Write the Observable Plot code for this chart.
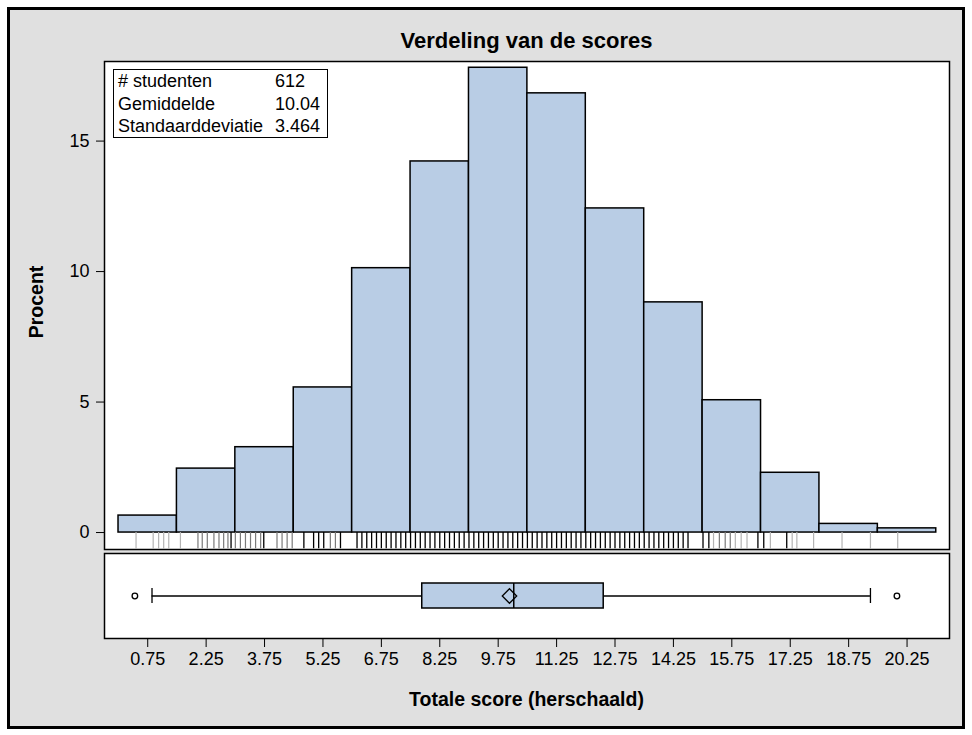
<!DOCTYPE html>
<html>
<head>
<meta charset="utf-8">
<script src="https://cdn.jsdelivr.net/npm/d3@7"></script>
<script src="https://cdn.jsdelivr.net/npm/@observablehq/plot@0.6"></script>
<style>
  html, body { margin: 0; padding: 0; background: #ffffff; }
  #wrap { position: relative; width: 972px; height: 735px; overflow: hidden;
          font-family: "Liberation Sans", Arial, sans-serif; color: #000; }
  #outer { position: absolute; left: 7px; top: 7px; width: 952px; height: 716px;
           border: 3px solid #000; background: #e0e0e0; }
  .layer { position: absolute; left: 0; top: 0; }
  .layer svg { display: block; max-width: none; }
  #title { position: absolute; left: 104px; width: 845px; top: 30px; text-align: center;
           font-weight: bold; font-size: 22px; line-height: 22px; white-space: nowrap; }
  #xlabel { position: absolute; left: 104px; width: 845px; top: 690px; text-align: center;
            font-weight: bold; font-size: 19.5px; line-height: 19.5px; white-space: nowrap; }
  #ylabel { position: absolute; left: -64px; top: 292px; width: 200px; height: 20px;
            text-align: center; font-weight: bold; font-size: 19.5px; line-height: 20px;
            transform: rotate(-90deg); white-space: nowrap; }
  #stats { position: absolute; left: 113px; top: 69px; width: 215px; height: 69px;
           box-sizing: border-box; border: 1.5px solid #000; background: #fff;
           font-size: 18px; line-height: 22.5px; }
  #stats .row { position: relative; height: 22.5px; white-space: nowrap; }
  #stats .lab { position: absolute; left: 4px; }
  #stats .val { position: absolute; left: 161px; }
</style>
</head>
<body>
<div id="wrap">
  <div id="outer"></div>
  <div class="layer" id="topLayer"></div>
  <div class="layer" id="bottomLayer"></div>
  <div id="title">Verdeling van de scores</div>
  <div id="ylabel">Procent</div>
  <div id="xlabel">Totale score (herschaald)</div>
  <div id="stats"></div>
</div>
<script>
// ---------- data ----------
const binMid = [0.75, 2.25, 3.75, 5.25, 6.75, 8.25, 9.75, 11.25, 12.75, 14.25, 15.75, 17.25, 18.75, 20.25];
const binPct = [0.65, 2.45, 3.27, 5.56, 10.13, 14.22, 17.81, 16.83, 12.42, 8.82, 5.07, 2.29, 0.33, 0.16];
const binWidth = 1.5;
const xTicks = [0.75, 2.25, 3.75, 5.25, 6.75, 8.25, 9.75, 11.25, 12.75, 14.25, 15.75, 17.25, 18.75, 20.25];
const yTicks = [0, 5, 10, 15];

const statLabels = ["# studenten", "Gemiddelde", "Standaarddeviatie"];
const statValues = ["612", "10.04", "3.464"];

const boxQ1 = 7.80, boxMedian = 10.15, boxQ3 = 12.46;
const whiskerLow = 0.86, whiskerHigh = 19.31, meanValue = 10.04;
const outliers = [0.42, 19.99];

// rug (observed score positions), by darkness of the rug line
const rugLight = [0.45, 0.89, 1.03, 1.16, 1.29, 1.59, 15.28, 15.84, 15.99, 16.14, 16.74,
                  17.30, 17.42, 17.85, 18.58, 19.31, 20.01];
const rugMid = [2.04, 2.15, 2.28, 2.45, 2.58, 2.70, 2.81, 3.00, 3.13, 3.26, 3.39, 3.52, 3.65,
                4.07, 4.20, 4.33, 4.46, 5.44, 5.57, 15.43, 15.58, 15.71];
const rugDark = [2.89, 3.73, 4.76, 5.01, 5.14, 5.27, 5.70,
  6.125, 6.25, 6.375, 6.5, 6.625, 6.75, 6.875, 7, 7.125, 7.25, 7.375, 7.5, 7.625, 7.75, 7.875,
  8, 8.125, 8.25, 8.375, 8.5, 8.625, 8.75, 8.875, 9, 9.125, 9.25, 9.375, 9.5, 9.625, 9.75, 9.875,
  10, 10.125, 10.25, 10.375, 10.5, 10.625, 10.75, 10.875, 11, 11.125, 11.25, 11.375, 11.5, 11.625,
  11.75, 11.875, 12, 12.125, 12.25, 12.375, 12.5, 12.625, 12.75, 12.875, 13, 13.125, 13.25, 13.375,
  13.5, 13.625, 13.75, 13.875, 14, 14.125, 14.25, 14.375, 14.5, 14.625,
  15.01, 15.16, 16.42, 16.57, 17.16];

// ---------- styling ----------
const barFill = "#b9cde5";
const xDomain = [-0.36, 21.34];
const fontFam = '"Liberation Sans", Arial, sans-serif';

const bins = binMid.map((m, i) => ({x1: m - binWidth / 2, x2: m + binWidth / 2, pct: binPct[i]}));
const boxRow = [{g: "score", q1: boxQ1, med: boxMedian, q3: boxQ3, lo: whiskerLow, hi: whiskerHigh, mean: meanValue}];

const topPlot = Plot.plot({
  width: 972, height: 560,
  marginTop: 61, marginLeft: 104, marginRight: 23, marginBottom: 11,
  x: {domain: xDomain, axis: null},
  y: {domain: [-0.65, 18.05]},
  style: {background: "transparent", fontFamily: fontFam, fontSize: "18px", color: "#000"},
  marks: [
    Plot.frame({fill: "white", stroke: null}),
    Plot.rectY(bins, {x1: "x1", x2: "x2", y1: 0, y2: "pct", fill: barFill, stroke: "#000", strokeWidth: 1.5}),
    Plot.ruleX(rugLight, {x: d => d, y1: 0, y2: -0.62, stroke: "#b4b4b4", strokeWidth: 1.2}),
    Plot.ruleX(rugMid, {x: d => d, y1: 0, y2: -0.62, stroke: "#7a7a7a", strokeWidth: 1.2}),
    Plot.ruleX(rugDark, {x: d => d, y1: 0, y2: -0.62, stroke: "#000", strokeWidth: 1.3}),
    Plot.frame({stroke: "#000", strokeWidth: 1.5}),
    Plot.axisY(yTicks, {anchor: "left", tickSize: 8, tickPadding: 7, fontSize: 18, label: null, stroke: "#000"})
  ]
});
document.getElementById("topLayer").appendChild(topPlot);

const bottomPlot = Plot.plot({
  width: 972, height: 735,
  marginTop: 553, marginLeft: 104, marginRight: 23, marginBottom: 97,
  x: {domain: xDomain},
  y: {domain: ["score"], padding: 0.546, axis: null},
  style: {background: "transparent", fontFamily: fontFam, fontSize: "18px", color: "#000"},
  marks: [
    Plot.frame({fill: "white", stroke: null}),
    Plot.ruleY(boxRow, {y: "g", x1: "lo", x2: "q1", stroke: "#000", strokeWidth: 1.3}),
    Plot.ruleY(boxRow, {y: "g", x1: "q3", x2: "hi", stroke: "#000", strokeWidth: 1.3}),
    Plot.tickX(boxRow, {x: "lo", y: "g", insetTop: 5, insetBottom: 5, stroke: "#000", strokeWidth: 1.3}),
    Plot.tickX(boxRow, {x: "hi", y: "g", insetTop: 5, insetBottom: 5, stroke: "#000", strokeWidth: 1.3}),
    Plot.barX(boxRow, {x1: "q1", x2: "q3", y: "g", fill: barFill, stroke: "#000", strokeWidth: 1.5}),
    Plot.tickX(boxRow, {x: "med", y: "g", stroke: "#000", strokeWidth: 1.5}),
    Plot.dot(boxRow, {x: "mean", y: "g", symbol: "diamond2", r: 6.5, stroke: "#000", fill: "none", strokeWidth: 1.3}),
    Plot.dot(outliers, {x: d => d, y: () => "score", r: 2.8, stroke: "#000", fill: "white", strokeWidth: 1.3}),
    Plot.frame({stroke: "#000", strokeWidth: 1.5}),
    Plot.axisX(xTicks, {anchor: "bottom", tickSize: 9, tickPadding: 5, tickFormat: d => d.toFixed(2),
                        fontSize: 18, label: null, stroke: "#000"})
  ]
});
document.getElementById("bottomLayer").appendChild(bottomPlot);

// stats inset
const stats = document.getElementById("stats");
statLabels.forEach((lab, i) => {
  const row = document.createElement("div");
  row.className = "row";
  const a = document.createElement("span"); a.className = "lab"; a.textContent = lab;
  const b = document.createElement("span"); b.className = "val"; b.textContent = statValues[i];
  row.appendChild(a); row.appendChild(b);
  stats.appendChild(row);
});
</script>
</body>
</html>
